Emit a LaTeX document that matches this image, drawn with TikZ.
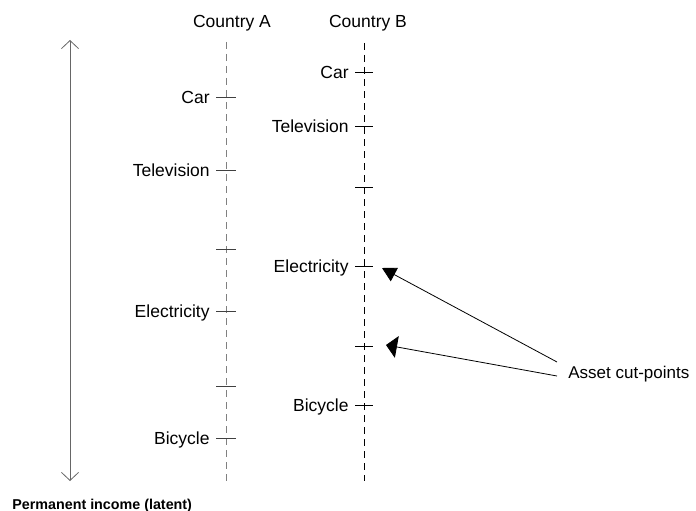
\documentclass[tikz,border=0pt]{standalone}
\usepackage{fontspec}
\setmainfont{Liberation Sans}
\usetikzlibrary{arrows.meta,positioning}
\tikzset{
    every picture/.style={
        x=1pt,y=-1pt,line width=.8pt,
        font=\fontsize{17.5}{21}\selectfont,
        axis/.style={dash pattern=on 7pt off 5pt},
        item/.style={inner sep=0pt,left=6pt,text height=12.5pt,text depth=0pt},
        pointer/.style={-{Triangle[length=14pt,width=15pt]}},
        widepointer/.style={-{Triangle[length=11pt,width=22pt]}}
    }
}

\begin{document}
\begin{tikzpicture}
    \useasboundingbox (0,0) rectangle (696,511);
    % titles
    \node (ca) at (232,23) {Country A};
    \node (cb) at (368,23) {Country B};
    % country lines
    \coordinate (atop) at (226,42);
    \coordinate (abot) at (226,481);
    \coordinate (btop) at (364,43);
    \coordinate (bbot) at (364,481);
    \draw[axis,gray] (atop) -- (abot);
    \draw[axis] (btop) -- (bbot);
    % income axis
    \coordinate (itop) at (70,40);
    \coordinate (ibot) at (70,481);
    \draw[{Straight Barb[length=8pt,width=17pt]}-{Straight Barb[length=8pt,width=17pt]},black!60] (itop) -- (ibot);
    \node[font=\fontsize{14.3}{17}\selectfont\bfseries,anchor=base west,inner sep=0pt] (inc) at (12,509) {Permanent income (latent)};
    % cut-points, country A
    \coordinate (a1) at (226,97);
    \coordinate (a2) at (226,170);
    \coordinate (a3) at (226,249);
    \coordinate (a4) at (226,311);
    \coordinate (a5) at (226,386);
    \coordinate (a6) at (226,438);
    \draw[black!75] ([xshift=-10pt]a1) -- ([xshift=10pt]a1)
                    ([xshift=-10pt]a2) -- ([xshift=10pt]a2)
                    ([xshift=-10pt]a3) -- ([xshift=10pt]a3)
                    ([xshift=-10pt]a4) -- ([xshift=10pt]a4)
                    ([xshift=-10pt]a5) -- ([xshift=10pt]a5)
                    ([xshift=-10pt]a6) -- ([xshift=10pt]a6);
    \node[item] (la1) at ([xshift=-10pt]a1) {Car};
    \node[item] (la2) at ([xshift=-10pt]a2) {Television};
    \node[item] (la4) at ([xshift=-10pt]a4) {Electricity};
    \node[item] (la6) at ([xshift=-10pt]a6) {Bicycle};
    % cut-points, country B
    \coordinate (b1) at (364,72);
    \coordinate (b2) at (364,126);
    \coordinate (b3) at (364,187);
    \coordinate (b4) at (364,266);
    \coordinate (b5) at (364,346);
    \coordinate (b6) at (364,405);
    \draw ([xshift=-9pt]b1) -- ([xshift=9pt]b1)
          ([xshift=-9pt]b2) -- ([xshift=9pt]b2)
          ([xshift=-9pt]b3) -- ([xshift=9pt]b3)
          ([xshift=-9pt]b4) -- ([xshift=9pt]b4)
          ([xshift=-9pt]b5) -- ([xshift=9pt]b5)
          ([xshift=-9pt]b6) -- ([xshift=9pt]b6);
    \node[item] (lb1) at ([xshift=-9pt]b1) {Car};
    \node[item] (lb2) at ([xshift=-9pt]b2) {Television};
    \node[item] (lb4) at ([xshift=-9pt]b4) {Electricity};
    \node[item] (lb6) at ([xshift=-9pt]b6) {Bicycle};
    % pointers
    \node[anchor=west,inner sep=0pt,text height=12pt,text depth=0pt,font=\fontsize{17}{20}\selectfont] (asset) at (568,372) {Asset cut-points};
    \coordinate (p1) at (557,362);
    \coordinate (p2) at (557,376);
    \coordinate (q1) at (382,268);
    \coordinate (q2) at (386,345);
    \draw[pointer] (p1) -- (q1);
    \draw[widepointer] (p2) -- (q2);
\end{tikzpicture}
\end{document}
